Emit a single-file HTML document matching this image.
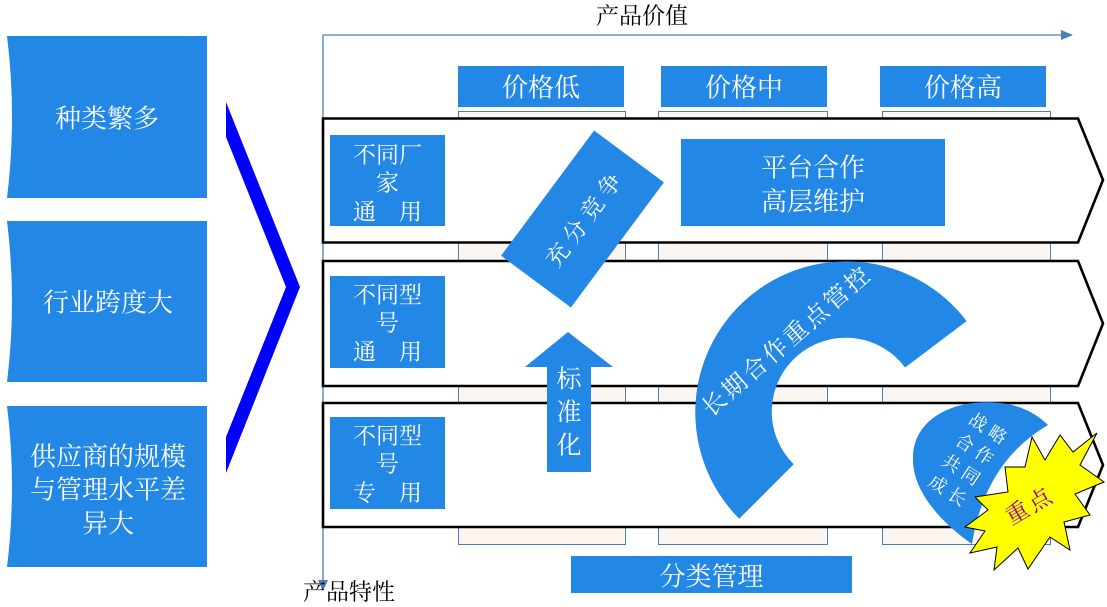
<!DOCTYPE html>
<html>
<head>
<meta charset="utf-8">
<style>
html,body{margin:0;padding:0;background:#fff;}
svg{display:block;}
text{font-family:"Liberation Serif","Noto Serif CJK SC",serif;}
</style>
</head>
<body>
<svg width="1107" height="607" viewBox="0 0 1107 607" xmlns="http://www.w3.org/2000/svg">
  <rect x="0" y="0" width="1107" height="607" fill="#ffffff"/>

  <!-- left boxes -->
  <path d="M7 36 L207 36 L207 198 L7 198 Q17 117 7 36 Z" fill="#2387e6"/>
  <path d="M7 221 L207 221 L207 382 L7 382 Q17 301 7 221 Z" fill="#2387e6"/>
  <path d="M7 406 L207 406 L207 567 L7 567 Q17 486 7 406 Z" fill="#2387e6"/>
  <g fill="#ffffff" font-size="26" text-anchor="middle" dominant-baseline="central">
    <text x="107" y="119">种类繁多</text>
    <text x="108" y="303">行业跨度大</text>
    <text x="108" y="457">供应商的规模</text>
    <text x="108" y="490">与管理水平差</text>
    <text x="108" y="524">异大</text>
  </g>

  <!-- blue chevron -->
  <polygon points="226,102 300,287 226,473 226,437 286,287 226,137" fill="#0000ff"/>

  <!-- axes -->
  <line x1="323" y1="35" x2="1065" y2="35" stroke="#4a7ebb" stroke-width="1.3"/>
  <polygon points="1061,30 1073,35 1061,40" fill="#4a7ebb"/>
  <line x1="323" y1="35" x2="323" y2="584" stroke="#4a7ebb" stroke-width="1.3"/>
  <polygon points="318,580 323,591 328,580" fill="#4a7ebb"/>
  <g fill="#000000" font-size="23" text-anchor="middle" dominant-baseline="central">
    <text x="642" y="16">产品价值</text>
    <text x="349" y="592">产品特性</text>
  </g>

  <!-- price headers -->
  <rect x="458" y="66" width="166" height="41" fill="#2387e6"/>
  <rect x="661" y="66" width="166" height="41" fill="#2387e6"/>
  <rect x="880" y="66" width="166" height="41" fill="#2387e6"/>
  <g fill="#ffffff" font-size="26" text-anchor="middle" dominant-baseline="central">
    <text x="541" y="88">价格低</text>
    <text x="744" y="88">价格中</text>
    <text x="963" y="88">价格高</text>
  </g>

  <!-- columns -->
  <rect x="458.5" y="111.5" width="167" height="433" fill="#fdf5f0" stroke="#4a7ebb" stroke-width="1"/>
  <rect x="658.5" y="111.5" width="169" height="433" fill="#fdf5f0" stroke="#4a7ebb" stroke-width="1"/>
  <rect x="882.5" y="111.5" width="168" height="433" fill="#fdf5f0" stroke="#4a7ebb" stroke-width="1"/>

  <!-- rows -->
  <path d="M323 118.5 H1078 L1103 180 L1078 242.5 H323 Z" fill="#ffffff" stroke="#000" stroke-width="2.6"/>
  <path d="M323 261 H1078 L1103 323.5 L1078 386 H323 Z" fill="#ffffff" stroke="#000" stroke-width="2.6"/>
  <path d="M323 403 H1078 L1103 465 L1078 527 H323 Z" fill="#ffffff" stroke="#000" stroke-width="2.6"/>

  <!-- row labels -->
  <rect x="330" y="135" width="115" height="91" fill="#2387e6"/>
  <rect x="330" y="276" width="115" height="92" fill="#2387e6"/>
  <rect x="330" y="417" width="115" height="92" fill="#2387e6"/>
  <g fill="#ffffff" font-size="23" text-anchor="middle" dominant-baseline="central">
    <text x="387.5" y="155">不同厂</text>
    <text x="387.5" y="183">家</text>
    <text x="387.5" y="212">通　用</text>
    <text x="387.5" y="295">不同型</text>
    <text x="387.5" y="323">号</text>
    <text x="387.5" y="352">通　用</text>
    <text x="387.5" y="436">不同型</text>
    <text x="387.5" y="464">号</text>
    <text x="387.5" y="493">专　用</text>
  </g>

  <!-- 平台合作 -->
  <rect x="681" y="139" width="264" height="87" fill="#2387e6"/>
  <g fill="#ffffff" font-size="26" text-anchor="middle" dominant-baseline="central">
    <text x="813" y="168">平台合作</text>
    <text x="813" y="202">高层维护</text>
  </g>

  <!-- 充分竞争 -->
  <g transform="translate(582.5,219) rotate(-53.4)">
    <rect x="-78" y="-43.5" width="156" height="87" fill="#2387e6"/>
    <text x="3" y="2" fill="#ffffff" font-size="23" letter-spacing="6" text-anchor="middle" dominant-baseline="central">充分竞争</text>
  </g>

  <!-- 标准化 arrow -->
  <polygon points="568,332 613,367 591,367 591,472 547,472 547,367 525,367" fill="#2387e6"/>
  <g fill="#ffffff" font-size="25" text-anchor="middle" dominant-baseline="central">
    <text x="569" y="380">标</text>
    <text x="569" y="413">准</text>
    <text x="569" y="446">化</text>
  </g>

  <!-- big arc -->
  <path d="M739.2 518.8 A151 151 0 1 1 966.6 321.1 L905.1 367.5 A74 74 0 1 0 793.7 464.3 Z" fill="#2387e6"/>
  <g transform="translate(786,343) rotate(-41)">
    <text x="2" y="0" fill="#ffffff" font-size="24" letter-spacing="3" text-anchor="middle" dominant-baseline="central">长期合作重点管控</text>
  </g>

  <!-- 战略合作 shape -->
  <path d="M972 544 C940 522, 912 490, 913 458 C913 420, 952 398, 1000 403 C1020 405, 1036 413, 1048 425 Q985 462, 972 544 Z" fill="#2387e6"/>
  <g transform="translate(968,460) rotate(33)" fill="#ffffff" font-size="18" letter-spacing="5" text-anchor="middle" dominant-baseline="central">
    <text x="2" y="-37">战略</text>
    <text x="2" y="-12.3">合作</text>
    <text x="2" y="12.3">共同</text>
    <text x="2" y="37">成长</text>
  </g>

  <!-- starburst -->
  <polygon points="1032,437 1045,460 1060,435 1073,452 1097,433 1080,465 1104,482 1075,494 1090,515 1064,522 1070,550 1050,537 1028,569 1018,548 994,570 997,547 970,553 985,531 965,527 988,510 975,497 1008,492 1005,467 1025,467" fill="#ffff00" stroke="#000" stroke-width="1"/>
  <g transform="translate(1030,506) rotate(-30)">
    <text x="0" y="0" fill="#990099" font-size="23" letter-spacing="3" text-anchor="middle" dominant-baseline="central">重点</text>
  </g>

  <!-- 分类管理 -->
  <rect x="571" y="556" width="281" height="37" fill="#2387e6"/>
  <text x="711.5" y="577" fill="#ffffff" font-size="26" text-anchor="middle" dominant-baseline="central">分类管理</text>
</svg>
</body>
</html>
